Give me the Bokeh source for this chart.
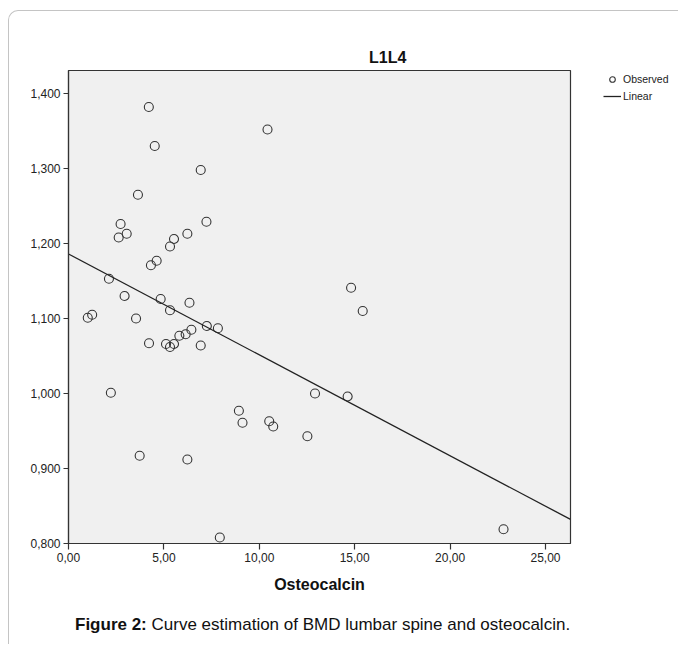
from bokeh.plotting import figure
from bokeh.models import (Range1d, FixedTicker, CustomJSTickFormatter,
                          Legend, LegendItem, ColumnDataSource, Div)
from bokeh.layouts import column, row
from bokeh.embed import file_html
from bokeh.resources import INLINE

# ---------------- data ----------------
osteocalcin = [4.21, 10.43, 4.52, 6.93, 3.64, 7.23, 2.73, 3.05, 2.63, 6.23,
               5.53, 5.32, 4.62, 4.32, 2.12, 2.94, 4.83, 6.34, 5.32, 1.01,
               1.24, 3.54, 7.25, 7.83, 6.44, 6.14, 5.81, 4.22, 5.11, 5.53,
               5.32, 6.93, 2.22, 12.92, 8.93, 9.12, 10.52, 10.73, 12.52, 3.73,
               6.23, 14.81, 15.42, 14.63, 7.93, 22.80]
l1l4 = [1.382, 1.352, 1.330, 1.298, 1.265, 1.229, 1.226, 1.213, 1.208, 1.213,
        1.206, 1.196, 1.177, 1.171, 1.153, 1.130, 1.126, 1.121, 1.111, 1.101,
        1.105, 1.100, 1.090, 1.087, 1.085, 1.079, 1.077, 1.067, 1.066, 1.066,
        1.062, 1.064, 1.001, 1.000, 0.977, 0.961, 0.963, 0.956, 0.943, 0.917,
        0.912, 1.141, 1.110, 0.996, 0.808, 0.819]
fit_intercept = 1.186
fit_slope = -0.01345
x_ticks = [0, 5, 10, 15, 20, 25]
y_ticks = [0.8, 0.9, 1.0, 1.1, 1.2, 1.3, 1.4]
x_min, x_max = 0.0, 26.31
y_min, y_max = 0.8, 1.4307

title_text = "L1L4"
x_label = "Osteocalcin"
caption_bold = "Figure 2:"
caption_rest = "Curve estimation of BMD lumbar spine and osteocalcin."
legend_labels = ["Observed", "Linear"]

FONT = "Liberation Sans"
INK = "#333333"

W_TOTAL = 669
TITLE_H = 56
WP, HP = 564, 539
WL = W_TOTAL - WP
FRAME_TOP = 70 - 11 - TITLE_H        # page y 70
FRAME_BOTTOM = 543 - 11 - TITLE_H    # page y 543

# ---------------- title strip ----------------
title_div = Div(
    text=(f"<div style=\"font-family:'{FONT}';font-size:16px;font-weight:bold;"
          f"line-height:16px;color:#111;padding-left:360px;padding-top:39px;"
          f"white-space:nowrap\">{title_text}</div>"),
    width=W_TOTAL, height=TITLE_H, margin=(0, 0, 0, 0))

# ---------------- main plot ----------------
p = figure(width=WP, height=HP, output_backend="svg", toolbar_location=None,
           x_range=Range1d(x_min, x_max), y_range=Range1d(y_min, y_max),
           min_border_left=59, min_border_right=WP - 561,
           min_border_top=FRAME_TOP, min_border_bottom=HP - FRAME_BOTTOM,
           background_fill_color="#f0f0f0", border_fill_color="white")
p.grid.visible = False
p.outline_line_color = INK
p.outline_line_width = 1.2

for ax in (p.xaxis[0], p.yaxis[0]):
    ax.axis_line_color = INK
    ax.axis_line_width = 1.2
    ax.major_tick_line_color = INK
    ax.major_tick_line_width = 1.2
    ax.major_tick_in = 0
    ax.minor_tick_line_color = None
    ax.major_label_text_font = FONT
    ax.major_label_text_font_size = "12px"
    ax.major_label_text_color = "#222222"
    ax.major_label_standoff = 3

p.xaxis.ticker = FixedTicker(ticks=x_ticks)
p.yaxis.ticker = FixedTicker(ticks=y_ticks)
p.xaxis.major_tick_out = 6
p.yaxis.major_tick_out = 5
p.xaxis.formatter = CustomJSTickFormatter(code="return tick.toFixed(2).replace('.', ',');")
p.yaxis.formatter = CustomJSTickFormatter(code="return tick.toFixed(3).replace('.', ',');")

p.xaxis.axis_label = x_label
p.xaxis.axis_label_text_font = FONT
p.xaxis.axis_label_text_font_style = "bold"
p.xaxis.axis_label_text_font_size = "16px"
p.xaxis.axis_label_text_color = "#111111"
p.xaxis.axis_label_standoff = 11

src = ColumnDataSource(dict(x=osteocalcin, y=l1l4))
p.scatter("x", "y", source=src, marker="circle", size=9, fill_color=None,
          line_color=INK, line_width=1.1)

lx = [x_min, x_max]
ly = [fit_intercept + fit_slope * v for v in lx]
p.line(lx, ly, line_color="#222222", line_width=1.3)

# ---------------- legend panel (frame aligned with main frame) ----------------
lf = figure(width=WL, height=HP, output_backend="svg", toolbar_location=None,
            x_axis_type=None, y_axis_type=None,
            x_range=Range1d(0, 1), y_range=Range1d(0, 1),
            min_border=0, min_border_left=0, min_border_right=0,
            min_border_top=0, min_border_bottom=0,
            background_fill_color="white", border_fill_color="white")
lf.grid.visible = False
lf.outline_line_color = None
# legend proxies: kept outside this panel's visible range, only their legend swatches show
proxy_x = [-5.0, -4.0]
proxy_y = [-5.0, -4.0]
obs_r = lf.scatter(proxy_x, proxy_y, marker="circle", size=7, fill_color=None,
                   line_color=INK, line_width=1.1)
lin_r = lf.line(proxy_x, proxy_y, line_color="#222222", line_width=1.3)
frame_h = FRAME_BOTTOM - FRAME_TOP
legend = Legend(items=[LegendItem(label=legend_labels[0], renderers=[obs_r]),
                       LegendItem(label=legend_labels[1], renderers=[lin_r])],
                location=(30, frame_h - 1 - 34 + 2), orientation="vertical",
                padding=0, margin=0, spacing=3, glyph_width=18, glyph_height=14,
                label_height=14, label_standoff=2,
                label_text_font=FONT, label_text_font_size="10.5px",
                label_text_color="#222222",
                background_fill_alpha=0, border_line_color=None)
lf.add_layout(legend)

# ---------------- caption ----------------
caption = Div(
    text=(f"<div style=\"font-family:'{FONT}';font-size:17px;color:#111;"
          f"padding-left:66px;padding-top:7px;white-space:nowrap\">"
          f"<b>{caption_bold}</b> {caption_rest}</div>"),
    width=W_TOTAL, height=30, margin=(0, 0, 0, 0))

page = column(title_div, row(p, lf, spacing=0), caption, spacing=0)
page.styles = {"border-left": "1px solid #c4c4c4", "border-top": "1px solid #c4c4c4",
               "border-top-left-radius": "10px", "margin-top": "10px",
               "margin-left": "8px", "padding-bottom": "8px"}

open("out.html", "w").write(file_html(page, INLINE))
